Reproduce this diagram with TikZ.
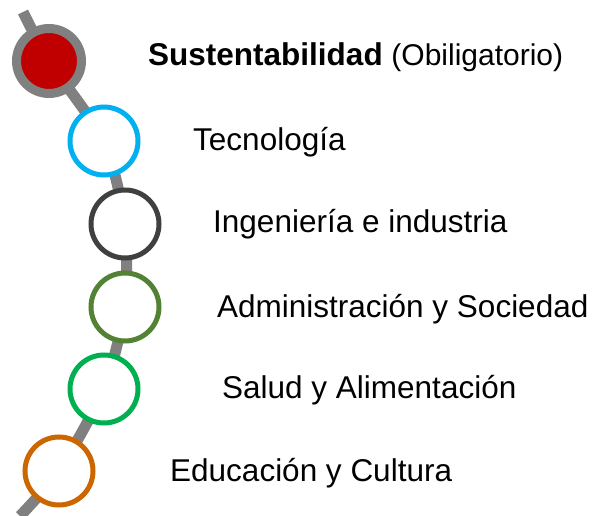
\documentclass[tikz,border=0pt]{standalone}
\usepackage{fontspec}
\setmainfont{Liberation Sans}
\definecolor{trackgray}{RGB}{128,128,128}
\definecolor{darkred}{RGB}{192,0,0}
\definecolor{skyblue}{RGB}{0,176,240}
\definecolor{darkgray}{RGB}{64,64,64}
\definecolor{olive}{RGB}{84,130,53}
\definecolor{brightgreen}{RGB}{0,176,80}
\definecolor{rustorange}{RGB}{204,102,0}
\begin{document}
\begin{tikzpicture}[x=1pt,y=-1pt]
\tikzstyle{area} = [circle, draw, line width=5pt, fill=white, minimum size=68pt, inner sep=0pt]
\tikzstyle{core} = [circle, fill=darkred, draw=trackgray, line width=9pt, minimum size=65pt, inner sep=0pt]
\tikzstyle{track} = [draw=trackgray, line width=11pt]
\tikzstyle{label} = [anchor=base west, inner sep=0pt, font=\fontsize{31.5}{38}\selectfont]

\useasboundingbox (0,0) rectangle (608,516);

\coordinate (top) at (23,12);
\coordinate (bottom) at (20,516);
\coordinate (S) at (49,61);
\coordinate (T) at (104,141);
\coordinate (I) at (125,224);
\coordinate (A) at (125,307);
\coordinate (H) at (104,389);
\coordinate (E) at (59,471);

% track behind the circles
\draw[track] plot[smooth, tension=0.4] coordinates {(top) (S) (T) (I) (A) (H) (E) (bottom)};

\node[core] (Snode) at (S) {};
\node[area, draw=skyblue] (Tnode) at (T) {};
\node[area, draw=darkgray] (Inode) at (I) {};
\node[area, draw=olive] (Anode) at (A) {};
\node[area, draw=brightgreen] (Hnode) at (H) {};
\node[area, draw=rustorange] (Enode) at (E) {};

\node[label] (Slbl) at (148,66) {\textbf{Sustentabilidad} {\fontsize{30}{38}\selectfont(Obiligatorio)}};
\node[label] (Tlbl) at (193,150) {Tecnología};
\node[label] (Ilbl) at (213,233) {Ingeniería e industria};
\node[label] (Albl) at (217,317) {Administración y Sociedad};
\node[label] (Hlbl) at (222,398) {Salud y Alimentación};
\node[label] (Elbl) at (170,481) {Educación y Cultura};
\end{tikzpicture}
\end{document}
